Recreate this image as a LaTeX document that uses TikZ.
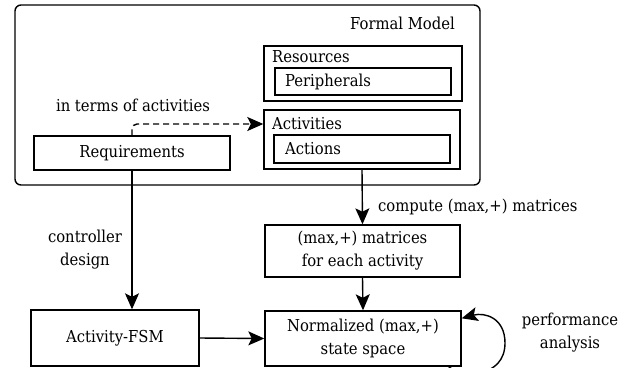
\documentclass[tikz,border=0pt]{standalone}
\usepackage{fontspec}
\setmainfont{DejaVu Serif Condensed}
\usetikzlibrary{arrows.meta,calc}
\begin{document}
\begin{tikzpicture}[x=1bp,y=-1bp,
  font=\fontsize{16.5}{23}\selectfont,
  box/.style={draw,line width=1.4bp,minimum width=#1,inner sep=0pt},
  arr/.style={-{Stealth[length=16bp,width=14bp,inset=3.5bp]},line width=1.4bp},
  lbl/.style={inner sep=0pt,align=center}]
\useasboundingbox (0,0) rectangle (621,367);
\node[box=465bp,minimum height=180bp,rounded corners=6bp] (fm) at (247.5,95) {};
\node[lbl,anchor=east] (fmt) at (455,23) {Formal Model};
\node[box=198bp,minimum height=55bp] (res) at (363,73.5) {};
\node[lbl,anchor=west] (rest) at (272,57) {Resources};
\node[box=176bp,minimum height=27bp] (per) at (363,81.5) {};
\node[lbl,anchor=west] (pert) at (285,82) {Peripherals};
\node[box=196bp,minimum height=59bp] (act) at (362,139.5) {};
\node[lbl,anchor=west] (actt) at (272,124) {Activities};
\node[box=176bp,minimum height=28bp] (acn) at (362,149) {};
\node[lbl,anchor=west] (acnt) at (285,149) {Actions};
\node[box=196bp,minimum height=34bp] (req) at (132,153) {Requirements};
\node[lbl] (iterm) at (133,105) {in terms of activities};
\node[box=195bp,minimum height=52bp,align=center] (mat) at (362.5,251) {(max,+) matrices\\for each activity};
\node[box=196bp,minimum height=55bp,align=center] (norm) at (363,338.5) {Normalized (max,+)\\state space};
\node[box=168bp,minimum height=56bp] (fsm) at (115,338) {Activity-FSM};
\node[lbl] (cd) at (85,250) {controller\\design};
\node[lbl,anchor=west] (cmp) at (378,207) {compute (max,+) matrices};
\node[lbl] (perf) at (570,333) {performance\\analysis};
\draw[arr,dash pattern=on 6bp off 4bp,rounded corners=5bp] (req.north) |- ([yshift=15.5bp]act.west);
\draw[arr] (req.south) -- (req.south |- fsm.north);
\draw[arr] (act.south) -- (mat.north);
\draw[arr] (mat.south) -- (norm.north);
\draw[arr] (fsm.east) -- (norm.west);
\draw[arr] ([xshift=-13bp]norm.south east) .. controls (462,378) and (505,378) .. (505,343) .. controls (505,318) and (485,312) .. ([yshift=-8bp]norm.north east);
\end{tikzpicture}
\end{document}
